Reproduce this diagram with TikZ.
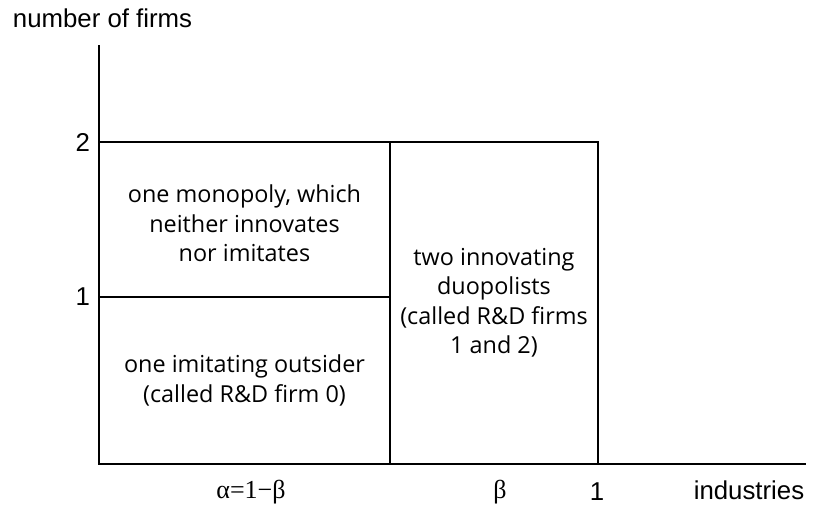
\documentclass[tikz,border=0pt]{standalone}
\usepackage{fontspec}
\setmainfont{Liberation Sans}
\newfontfamily\regionfont{Open Sans}
\newfontfamily\greekfont{Liberation Serif}
\usetikzlibrary{calc}
\tikzstyle{region} = [align=center, inner sep=0pt, font=\regionfont\fontsize{23.4}{29.5}\selectfont]
\tikzstyle{axislabel} = [inner sep=0pt, font=\fontsize{25.8}{28}\selectfont]
\tikzstyle{greeklabel} = [inner sep=0pt, font=\greekfont\fontsize{26}{28}\selectfont]

\begin{document}
\begin{tikzpicture}[x=1pt,y=-1pt,line width=1.9pt]
	\useasboundingbox (0,0) rectangle (817,509);

	% corners of the regions
	\coordinate (O) at (99,464);
	\coordinate (ytop) at (99,45);
	\coordinate (xend) at (806,464);
	\coordinate (L2) at (99,142);
	\coordinate (L1) at (99,297);
	\coordinate (M2) at (390,142);
	\coordinate (M1) at (390,297);
	\coordinate (M0) at (390,464);
	\coordinate (R2) at (598,142);
	\coordinate (R0) at (598,464);

	\draw (ytop) -- (O) -- (xend);
	\draw (L2) -- (R2) -- (R0);
	\draw (L1) -- (M1);
	\draw (M2) -- (M0);

	\node[axislabel, anchor=base west] (ylabel) at (12,27) {number of firms};
	\node[axislabel, anchor=east] (ytwo) at ($(L2)+(-8,0)$) {2};
	\node[axislabel, anchor=east] (yone) at ($(L1)+(-8,0)$) {1};

	\node[greeklabel] (alpha) at (251,492) {α=1−β};
	\node[greeklabel] (beta) at (500,492) {β};
	\node[axislabel] (xone) at (597,492) {1};
	\node[axislabel] (xlabel) at (749,490) {industries};

	\node[region] (monopoly) at ($(L2)!0.5!(M1)+(0,4)$) {one monopoly, which\\neither innovates\\nor imitates};
	\node[region] (outsider) at ($(L1)!0.5!(M0)$) {one imitating outsider\\(called R\&D firm 0)};
	\node[region] (duopoly) at ($(M2)!0.5!(R0)$) {two innovating\\duopolists\\(called R\&D firms\\1 and 2)};

\end{tikzpicture}
\end{document}
